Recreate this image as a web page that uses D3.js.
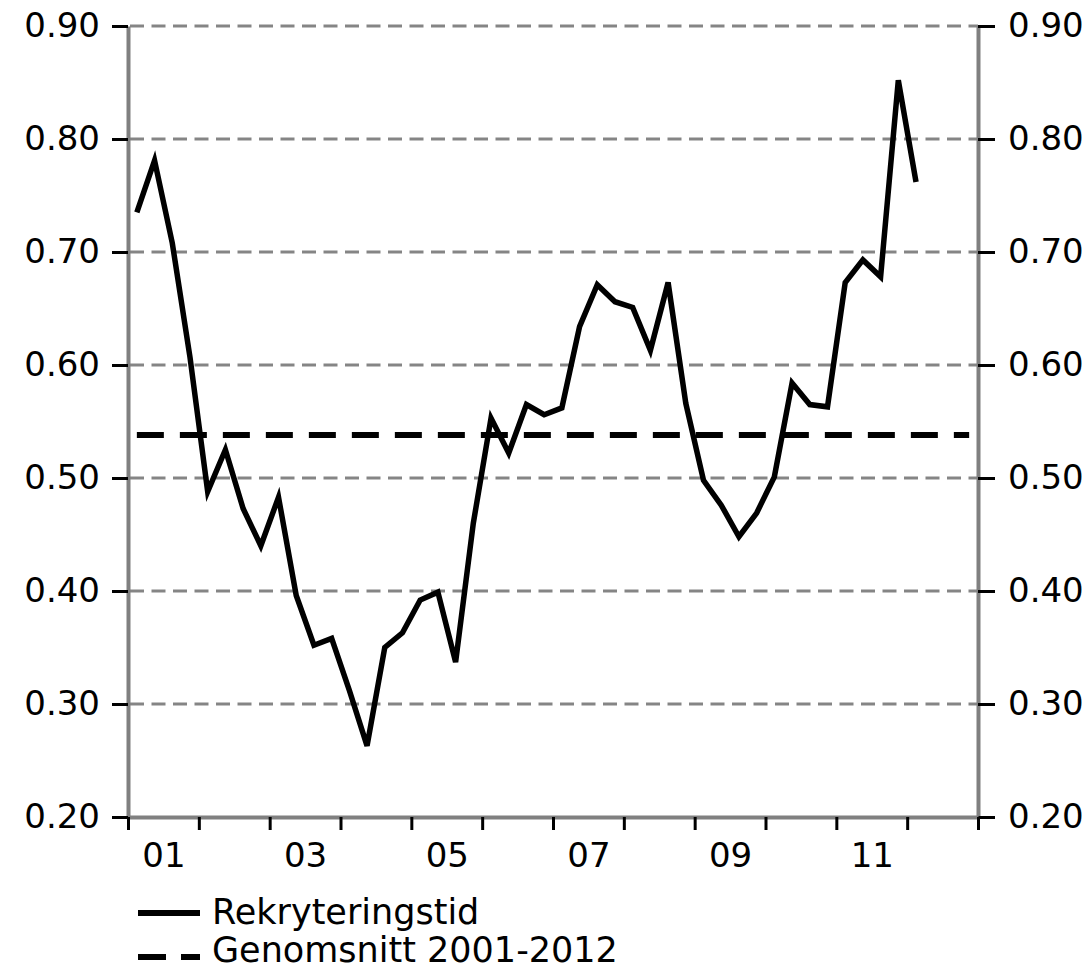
<!DOCTYPE html>
<html lang="sv">
<head>
<meta charset="utf-8">
<title>Rekryteringstid</title>
<style>
body {
  margin: 0;
  background: #fff;
}

#chart text {
  font-family: "DejaVu Sans", Verdana, sans-serif;
  font-size: 34px;
  fill: #000;
}

#chart .legend text {
  font-size: 35px;
}

.axis .domain {
  stroke: #808080;
  stroke-width: 4;
}

.axis .tick line {
  stroke: #000;
  stroke-width: 3;
}

.grid line {
  stroke: #858585;
  stroke-width: 3;
  stroke-dasharray: 14, 7.5;
}
</style>
</head>
<body>
<div id="chart"></div>

<script src="https://d3js.org/d3.v7.min.js"></script>
<script>
// quarterly series, 2001Q1 - 2012Q1
var quarters = [
  "2001Q1", "2001Q2", "2001Q3", "2001Q4",
  "2002Q1", "2002Q2", "2002Q3", "2002Q4",
  "2003Q1", "2003Q2", "2003Q3", "2003Q4",
  "2004Q1", "2004Q2", "2004Q3", "2004Q4",
  "2005Q1", "2005Q2", "2005Q3", "2005Q4",
  "2006Q1", "2006Q2", "2006Q3", "2006Q4",
  "2007Q1", "2007Q2", "2007Q3", "2007Q4",
  "2008Q1", "2008Q2", "2008Q3", "2008Q4",
  "2009Q1", "2009Q2", "2009Q3", "2009Q4",
  "2010Q1", "2010Q2", "2010Q3", "2010Q4",
  "2011Q1", "2011Q2", "2011Q3", "2011Q4",
  "2012Q1"
];

var rekryteringstid = [
  0.735, 0.781, 0.708, 0.607,
  0.488, 0.525, 0.473, 0.440,
  0.483, 0.396, 0.352, 0.358,
  0.312, 0.263, 0.350, 0.363,
  0.392, 0.399, 0.337, 0.460,
  0.553, 0.522, 0.565, 0.556,
  0.562, 0.634, 0.671, 0.656,
  0.651, 0.613, 0.673, 0.566,
  0.498, 0.476, 0.448, 0.469,
  0.501, 0.584, 0.565, 0.563,
  0.673, 0.693, 0.678, 0.852,
  0.762
];

// average 2001-2012, drawn across all quarters of the period
var avgValue = 0.538;
var avgSpan = ["2001Q1", "2012Q4"];

var yTicks = [0.2, 0.3, 0.4, 0.5, 0.6, 0.7, 0.8, 0.9];
var yearBounds = [2001, 2002, 2003, 2004, 2005, 2006, 2007, 2008, 2009, 2010, 2011, 2012, 2013];
var yearLabelYears = [2001, 2003, 2005, 2007, 2009, 2011];
var yearLabels = ["01", "03", "05", "07", "09", "11"];

var legendNames = ["Rekryteringstid", "Genomsnitt 2001-2012"];

var margin = { top: 26, right: 110, bottom: 154, left: 128 },
    width = 1088 - margin.left - margin.right,
    height = 971 - margin.top - margin.bottom;

var svg = d3.select("#chart").append("svg")
    .attr("width", width + margin.left + margin.right)
    .attr("height", height + margin.top + margin.bottom)
    .style("display", "block")
  .append("g")
    .attr("transform", "translate(" + margin.left + "," + margin.top + ")");

// "2004Q3" -> middle of that quarter on a decimal year scale
function qPos(q) {
  var yr = +q.slice(0, 4), n = +q.slice(5);
  return yr + (n - 0.5) / 4;
}

var x = d3.scaleLinear()
    .domain([2001, 2013])
    .range([0, width]);

var y = d3.scaleLinear()
    .domain([0.2, 0.9])
    .range([height, 0]);

// gridlines
svg.append("g")
    .attr("class", "grid")
  .selectAll("line")
  .data(yTicks.filter(function(d) { return d > 0.2; }))
  .enter().append("line")
    .attr("x1", 2)
    .attr("x2", width)
    .attr("y1", function(d) { return y(d); })
    .attr("y2", function(d) { return y(d); });

// average line
svg.append("line")
    .attr("x1", x(qPos(avgSpan[0])))
    .attr("x2", x(qPos(avgSpan[1])))
    .attr("y1", y(avgValue))
    .attr("y2", y(avgValue))
    .attr("stroke", "#000")
    .attr("stroke-width", 6)
    .attr("stroke-dasharray", "27,16");

// axes
var fmt = d3.format(".2f");

svg.append("g")
    .attr("class", "axis axis-y")
    .call(d3.axisLeft(y).tickValues(yTicks).tickFormat(fmt)
      .tickSize(16).tickSizeOuter(0).tickPadding(12));

svg.append("g")
    .attr("class", "axis axis-y2")
    .attr("transform", "translate(" + width + ",0)")
    .call(d3.axisRight(y).tickValues(yTicks).tickFormat(fmt)
      .tickSize(17).tickSizeOuter(0).tickPadding(13));

svg.append("g")
    .attr("class", "axis axis-x")
    .attr("transform", "translate(0," + height + ")")
    .call(d3.axisBottom(x).tickValues(yearBounds).tickFormat("")
      .tickSize(13).tickSizeOuter(0));

svg.append("g")
    .attr("class", "axis-x-labels")
    .attr("transform", "translate(0," + height + ")")
    .call(d3.axisBottom(x)
      .tickValues(yearLabelYears.map(function(d) { return d + 0.5; }))
      .tickFormat(function(d, i) { return yearLabels[i]; })
      .tickSize(0).tickPadding(26))
    .call(function(g) { g.select(".domain").remove(); });

svg.selectAll(".axis text, .axis-x-labels text")
    .attr("font-family", null)
    .attr("font-size", null);

// series
var line = d3.line()
    .x(function(d, i) { return x(qPos(quarters[i])); })
    .y(function(d) { return y(d); });

svg.append("path")
    .datum(rekryteringstid)
    .attr("fill", "none")
    .attr("stroke", "#000")
    .attr("stroke-width", 5.5)
    .attr("stroke-linejoin", "miter")
    .attr("d", line);

// legend
var legend = svg.append("g")
    .attr("class", "legend")
    .attr("transform", "translate(" + (10) + "," + (height + 96) + ")");

var items = legend.selectAll("g")
  .data(legendNames)
  .enter().append("g")
    .attr("transform", function(d, i) { return "translate(0," + (i * 44) + ")"; });

items.append("line")
    .attr("x1", 0)
    .attr("x2", 62)
    .attr("stroke", "#000")
    .attr("stroke-width", 6)
    .attr("stroke-dasharray", function(d, i) { return i === 1 ? "28,15" : null; });

items.append("text")
    .attr("x", 74)
    .attr("y", function(d, i) { return i === 1 ? 5 : 11; })
    .text(function(d) { return d; });
</script>
</body>
</html>
